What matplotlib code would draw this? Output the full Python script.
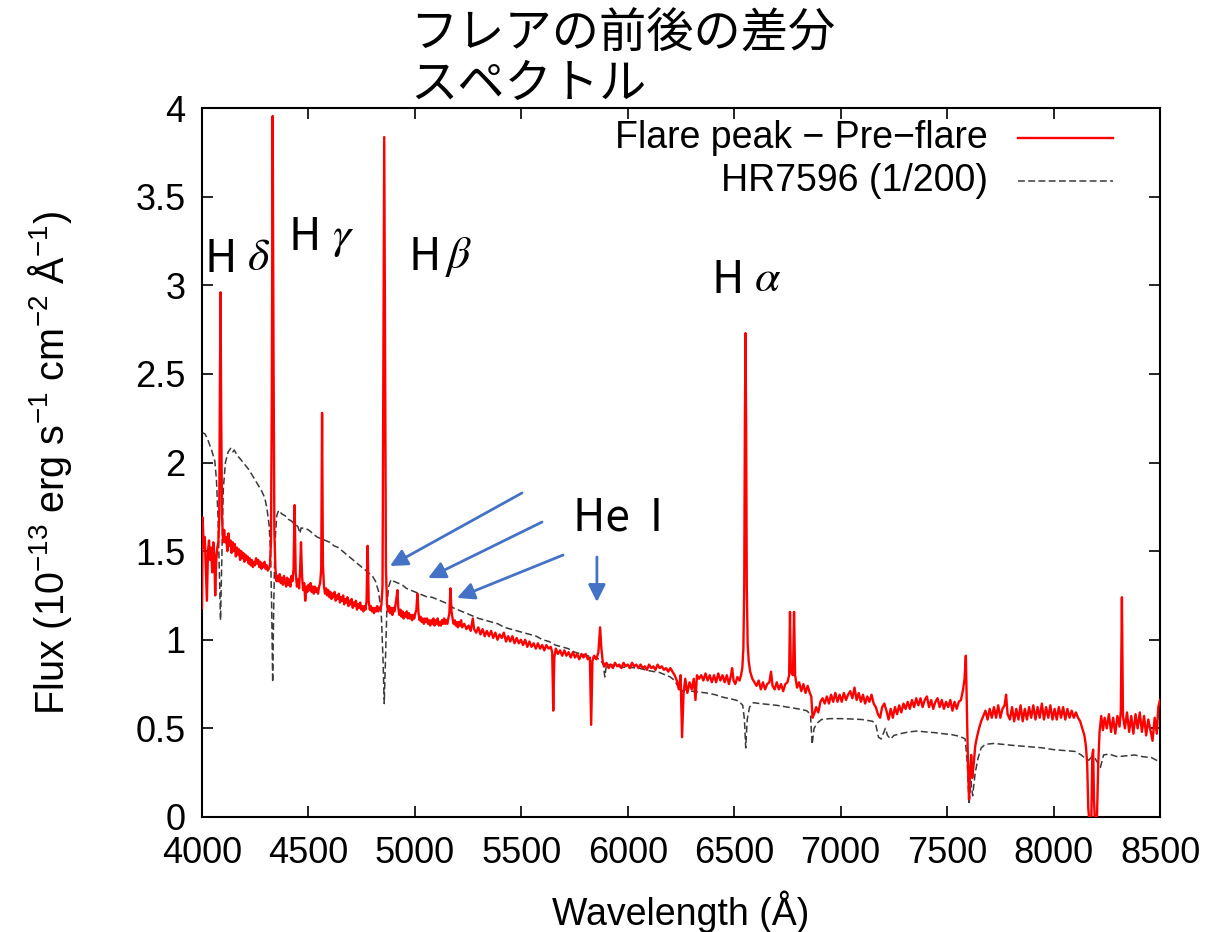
import numpy as np
import matplotlib
matplotlib.use("Agg")
import matplotlib.pyplot as plt

plt.rcParams["font.family"] = ["Liberation Sans", "DejaVu Sans"]
plt.rcParams["mathtext.fontset"] = "custom"
plt.rcParams["mathtext.rm"] = "Liberation Sans"
plt.rcParams["mathtext.it"] = "Liberation Sans:italic"

# ---- flare-peak minus pre-flare spectrum: (wavelength [A], flux [1e-13 erg/s/cm2/A]) ----
flare_4000_4500 = [
    (4000, 1.18), (4003, 1.69), (4008, 1.52), (4013, 1.58), (4018, 1.40), (4023, 1.22),
    (4028, 1.50), (4033, 1.56), (4038, 1.45), (4043, 1.52), (4048, 1.38), (4053, 1.55),
    (4058, 1.48), (4062, 1.25), (4067, 1.45), (4072, 1.52), (4077, 1.55), (4081, 1.70),
    (4084, 2.40), (4087, 2.96), (4090, 2.30), (4094, 1.70), (4099, 1.55), (4104, 1.62),
    (4109, 1.55), (4114, 1.58), (4119, 1.50), (4124, 1.60), (4129, 1.53), (4134, 1.56),
    (4139, 1.49), (4144, 1.55), (4149, 1.50), (4154, 1.54), (4159, 1.47), (4164, 1.52),
    (4169, 1.48), (4174, 1.51), (4179, 1.45), (4184, 1.50), (4189, 1.46), (4194, 1.49),
    (4199, 1.44), (4204, 1.48), (4209, 1.45), (4214, 1.47), (4219, 1.43), (4224, 1.46),
    (4229, 1.42), (4234, 1.45), (4239, 1.41), (4244, 1.44), (4249, 1.42), (4254, 1.46),
    (4259, 1.43), (4264, 1.45), (4269, 1.41), (4274, 1.44), (4279, 1.40), (4284, 1.43),
    (4289, 1.41), (4294, 1.44), (4299, 1.40), (4304, 1.42), (4309, 1.39), (4314, 1.40),
    (4319, 1.42), (4324, 1.55), (4328, 2.40), (4332, 3.955), (4336, 2.60), (4340, 1.60),
    (4345, 1.40), (4350, 1.33), (4355, 1.36), (4360, 1.33), (4365, 1.37), (4370, 1.32),
    (4375, 1.35), (4380, 1.31), (4385, 1.36), (4390, 1.33), (4395, 1.30), (4400, 1.35),
    (4405, 1.31), (4410, 1.34), (4415, 1.30), (4420, 1.36), (4425, 1.33), (4430, 1.40),
    (4435, 1.76), (4440, 1.38), (4446, 1.30), (4451, 1.34), (4456, 1.29), (4461, 1.40),
    (4465, 1.55), (4470, 1.36), (4475, 1.28), (4480, 1.32), (4485, 1.22), (4490, 1.30),
    (4495, 1.27),
]
flare_4500_5000 = [
    (4500, 1.31), (4505, 1.28), (4510, 1.32), (4515, 1.27), (4520, 1.30), (4525, 1.26),
    (4530, 1.30), (4535, 1.27), (4540, 1.29), (4545, 1.26), (4550, 1.30), (4555, 1.32),
    (4560, 1.40), (4564, 2.28), (4568, 1.42), (4573, 1.30), (4578, 1.26), (4583, 1.29),
    (4588, 1.25), (4593, 1.28), (4598, 1.24), (4603, 1.27), (4608, 1.23), (4613, 1.26),
    (4618, 1.24), (4623, 1.27), (4628, 1.22), (4633, 1.25), (4638, 1.23), (4643, 1.26),
    (4648, 1.21), (4653, 1.24), (4658, 1.22), (4663, 1.25), (4668, 1.20), (4673, 1.23),
    (4678, 1.21), (4683, 1.24), (4688, 1.19), (4693, 1.22), (4698, 1.20), (4703, 1.23),
    (4708, 1.18), (4713, 1.21), (4718, 1.19), (4723, 1.22), (4728, 1.17), (4733, 1.20),
    (4738, 1.18), (4743, 1.21), (4748, 1.17), (4753, 1.19), (4758, 1.16), (4763, 1.19),
    (4768, 1.17), (4773, 1.22), (4778, 1.53), (4783, 1.22), (4788, 1.17), (4793, 1.19),
    (4798, 1.16), (4803, 1.18), (4808, 1.15), (4813, 1.18), (4818, 1.16), (4823, 1.19),
    (4828, 1.16), (4833, 1.18), (4838, 1.17), (4843, 1.20), (4848, 1.30), (4852, 2.50),
    (4856, 3.836), (4860, 2.60), (4864, 1.40), (4869, 1.20), (4874, 1.16), (4879, 1.19),
    (4884, 1.15), (4889, 1.18), (4894, 1.14), (4899, 1.18), (4904, 1.16), (4909, 1.20),
    (4914, 1.24), (4918, 1.28), (4922, 1.18), (4927, 1.14), (4932, 1.17), (4937, 1.13),
    (4942, 1.16), (4947, 1.12), (4952, 1.15), (4957, 1.13), (4962, 1.16), (4967, 1.12),
    (4972, 1.15), (4977, 1.12), (4982, 1.14), (4987, 1.11), (4992, 1.14), (4997, 1.12),
]
flare_5000_6000 = [
    (5002, 1.15), (5007, 1.17), (5012, 1.26), (5017, 1.15), (5022, 1.11), (5027, 1.13),
    (5032, 1.10), (5037, 1.12), (5042, 1.09), (5047, 1.12), (5052, 1.10), (5057, 1.12),
    (5062, 1.09), (5067, 1.11), (5072, 1.08), (5077, 1.11), (5082, 1.09), (5087, 1.12),
    (5092, 1.08), (5097, 1.11), (5102, 1.09), (5107, 1.12), (5112, 1.08), (5117, 1.10),
    (5122, 1.08), (5127, 1.11), (5132, 1.09), (5137, 1.12), (5142, 1.09), (5147, 1.11),
    (5152, 1.09), (5157, 1.12), (5162, 1.15), (5167, 1.29), (5172, 1.16), (5177, 1.12),
    (5182, 1.09), (5187, 1.11), (5192, 1.08), (5197, 1.10), (5202, 1.07), (5207, 1.10),
    (5212, 1.08), (5217, 1.11), (5222, 1.07), (5232, 1.09), (5242, 1.06), (5252, 1.08),
    (5262, 1.05), (5272, 1.12), (5278, 1.06), (5288, 1.04), (5298, 1.07), (5308, 1.03),
    (5318, 1.06), (5328, 1.02), (5338, 1.05), (5348, 1.02), (5358, 1.05), (5368, 1.01),
    (5378, 1.04), (5388, 1.00), (5398, 1.03), (5408, 1.01), (5418, 1.04), (5428, 0.99),
    (5438, 1.02), (5448, 0.99), (5458, 1.02), (5468, 0.98), (5478, 1.01), (5488, 0.98),
    (5498, 1.00), (5508, 0.97), (5518, 1.00), (5528, 0.96), (5538, 0.99), (5548, 0.96),
    (5558, 0.98), (5568, 0.95), (5578, 0.98), (5588, 0.95), (5598, 0.97), (5608, 0.94),
    (5618, 0.97), (5628, 0.95), (5638, 0.96), (5645, 0.93), (5650, 0.60), (5655, 0.90),
    (5662, 0.95), (5672, 0.92), (5682, 0.94), (5692, 0.91), (5702, 0.94), (5712, 0.91),
    (5722, 0.93), (5732, 0.90), (5742, 0.93), (5752, 0.90), (5762, 0.92), (5772, 0.89),
    (5782, 0.92), (5792, 0.90), (5802, 0.92), (5812, 0.89), (5822, 0.90), (5828, 0.52),
    (5834, 0.88), (5842, 0.91), (5852, 0.89), (5862, 0.93), (5870, 1.07), (5876, 0.95),
    (5882, 0.88), (5890, 0.85), (5900, 0.87), (5910, 0.84), (5920, 0.86), (5930, 0.84),
    (5940, 0.87), (5950, 0.85), (5960, 0.86), (5970, 0.84), (5980, 0.87), (5990, 0.85),
]
flare_6000_7000 = [
    (6000, 0.86), (6010, 0.84), (6020, 0.87), (6030, 0.85), (6040, 0.86), (6050, 0.84),
    (6060, 0.86), (6070, 0.84), (6080, 0.85), (6090, 0.83), (6100, 0.86), (6110, 0.84),
    (6120, 0.85), (6130, 0.83), (6140, 0.86), (6150, 0.84), (6160, 0.85), (6170, 0.83),
    (6180, 0.84), (6190, 0.82), (6200, 0.84), (6210, 0.82), (6220, 0.80), (6230, 0.77),
    (6240, 0.72), (6248, 0.80), (6255, 0.45), (6262, 0.70), (6270, 0.78), (6280, 0.70),
    (6290, 0.76), (6300, 0.72), (6310, 0.78), (6318, 0.66), (6325, 0.80), (6335, 0.78),
    (6345, 0.80), (6355, 0.77), (6365, 0.81), (6375, 0.77), (6385, 0.80), (6395, 0.76),
    (6405, 0.80), (6415, 0.76), (6425, 0.81), (6435, 0.77), (6445, 0.80), (6455, 0.76),
    (6465, 0.80), (6475, 0.75), (6485, 0.80), (6490, 0.84), (6497, 0.77), (6505, 0.75),
    (6515, 0.79), (6525, 0.77), (6532, 0.80), (6538, 0.84), (6543, 0.95), (6547, 1.30),
    (6550, 2.20), (6553, 2.73), (6556, 2.20), (6559, 1.30), (6563, 0.98), (6568, 0.88),
    (6575, 0.82), (6585, 0.78), (6595, 0.76), (6605, 0.74), (6615, 0.77), (6625, 0.72),
    (6635, 0.76), (6645, 0.72), (6655, 0.75), (6665, 0.76), (6673, 0.82), (6680, 0.74),
    (6690, 0.72), (6700, 0.76), (6710, 0.72), (6720, 0.75), (6730, 0.71), (6740, 0.75),
    (6750, 0.76), (6758, 0.80), (6762, 1.157), (6766, 0.82), (6776, 0.80), (6781, 1.157),
    (6786, 0.80), (6795, 0.73), (6805, 0.76), (6815, 0.71), (6825, 0.75), (6835, 0.70),
    (6845, 0.74), (6855, 0.70), (6862, 0.68), (6868, 0.56), (6875, 0.58), (6885, 0.62),
    (6895, 0.59), (6905, 0.65), (6915, 0.67), (6925, 0.64), (6935, 0.68), (6945, 0.64),
    (6955, 0.69), (6965, 0.65), (6975, 0.70), (6985, 0.65), (6995, 0.69),
]
flare_7000_8500 = [
    (7005, 0.65), (7015, 0.70), (7025, 0.66), (7035, 0.69), (7045, 0.71), (7055, 0.67),
    (7065, 0.73), (7075, 0.66), (7085, 0.70), (7095, 0.65), (7105, 0.69), (7115, 0.64),
    (7125, 0.68), (7135, 0.65), (7145, 0.69), (7155, 0.64), (7165, 0.62), (7175, 0.58),
    (7185, 0.56), (7195, 0.62), (7205, 0.64), (7215, 0.60), (7225, 0.55), (7235, 0.61),
    (7245, 0.56), (7255, 0.62), (7265, 0.58), (7275, 0.63), (7285, 0.59), (7295, 0.64),
    (7305, 0.61), (7315, 0.65), (7325, 0.61), (7335, 0.66), (7345, 0.62), (7355, 0.67),
    (7365, 0.63), (7375, 0.67), (7385, 0.62), (7395, 0.66), (7405, 0.68), (7415, 0.62),
    (7425, 0.66), (7435, 0.61), (7445, 0.65), (7455, 0.67), (7465, 0.62), (7475, 0.66),
    (7485, 0.61), (7495, 0.65), (7505, 0.62), (7515, 0.66), (7525, 0.60), (7535, 0.65),
    (7545, 0.61), (7555, 0.65), (7565, 0.66), (7575, 0.72), (7582, 0.78), (7588, 0.91),
    (7593, 0.60), (7598, 0.30), (7603, 0.10), (7608, 0.25), (7613, 0.35), (7618, 0.22),
    (7625, 0.30), (7632, 0.40), (7640, 0.45), (7650, 0.50), (7660, 0.54), (7670, 0.57),
    (7680, 0.60), (7690, 0.55), (7700, 0.61), (7710, 0.56), (7720, 0.62), (7730, 0.56),
    (7740, 0.63), (7750, 0.56), (7760, 0.61), (7770, 0.63), (7777, 0.69), (7784, 0.58),
    (7795, 0.55), (7805, 0.62), (7815, 0.54), (7825, 0.61), (7835, 0.55), (7845, 0.63),
    (7855, 0.54), (7865, 0.61), (7875, 0.55), (7885, 0.62), (7895, 0.56), (7905, 0.63),
    (7915, 0.55), (7925, 0.62), (7935, 0.56), (7945, 0.64), (7955, 0.55), (7965, 0.62),
    (7975, 0.56), (7985, 0.63), (7995, 0.55), (8005, 0.61), (8015, 0.55), (8025, 0.62),
    (8035, 0.56), (8045, 0.62), (8055, 0.55), (8065, 0.61), (8075, 0.56), (8085, 0.60),
    (8095, 0.56), (8105, 0.59), (8115, 0.56), (8125, 0.54), (8135, 0.50), (8145, 0.46),
    (8152, 0.40), (8158, 0.30), (8163, 0.05), (8170, -0.05), (8177, -0.05), (8182, 0.35),
    (8186, 0.38), (8190, 0.10), (8195, -0.05), (8203, -0.05), (8210, 0.30), (8216, 0.48),
    (8224, 0.57), (8232, 0.49), (8240, 0.56), (8250, 0.50), (8260, 0.58), (8270, 0.48),
    (8280, 0.56), (8290, 0.47), (8300, 0.57), (8310, 0.51), (8316, 0.60), (8321, 1.24),
    (8326, 0.57), (8335, 0.50), (8345, 0.59), (8355, 0.48), (8365, 0.57), (8375, 0.47),
    (8385, 0.58), (8395, 0.50), (8405, 0.59), (8415, 0.48), (8425, 0.57), (8435, 0.46),
    (8445, 0.55), (8455, 0.49), (8465, 0.43), (8475, 0.56), (8485, 0.47), (8492, 0.62),
    (8500, 0.66),
]

# ---- comparison star HR7596, scaled by 1/200 ----
hr7596_blue = [
    (4000, 2.17), (4015, 2.16), (4030, 2.12), (4045, 2.07), (4060, 2.01), (4068, 1.90),
    (4075, 1.70), (4081, 1.40), (4087, 1.11), (4093, 1.45), (4100, 1.85), (4110, 2.00),
    (4123, 2.06), (4135, 2.08), (4145, 2.06), (4152, 2.07), (4165, 2.04), (4180, 2.02),
    (4200, 1.99), (4220, 1.96), (4240, 1.92), (4260, 1.88), (4280, 1.84), (4295, 1.80),
    (4305, 1.74), (4315, 1.65), (4322, 1.50), (4327, 1.20), (4332, 0.76), (4337, 1.20),
    (4343, 1.55), (4351, 1.70), (4360, 1.73), (4375, 1.71), (4390, 1.70), (4405, 1.68),
    (4420, 1.67), (4435, 1.65), (4450, 1.64), (4460, 1.60), (4465, 1.63), (4480, 1.63),
    (4500, 1.62), (4520, 1.60), (4540, 1.58), (4560, 1.57), (4580, 1.56), (4600, 1.55),
    (4620, 1.53), (4640, 1.52), (4660, 1.50), (4680, 1.48), (4700, 1.46), (4720, 1.44),
    (4740, 1.42), (4760, 1.40), (4780, 1.38), (4800, 1.36), (4815, 1.33), (4830, 1.27),
    (4842, 1.15), (4850, 0.90), (4856, 0.64), (4862, 0.90), (4869, 1.20), (4877, 1.30),
    (4888, 1.34), (4900, 1.33), (4920, 1.32), (4940, 1.31), (4960, 1.29), (4980, 1.28),
    (5000, 1.27), (5020, 1.26), (5040, 1.25), (5060, 1.24), (5080, 1.24), (5100, 1.23),
    (5120, 1.22), (5140, 1.21), (5160, 1.20), (5180, 1.18), (5200, 1.17), (5220, 1.16),
    (5240, 1.15), (5260, 1.14), (5280, 1.13), (5300, 1.12), (5330, 1.11), (5360, 1.10),
    (5390, 1.09), (5420, 1.07), (5450, 1.06), (5480, 1.05), (5510, 1.04), (5540, 1.03),
    (5570, 1.02), (5600, 1.00), (5630, 0.99), (5660, 0.97), (5690, 0.96), (5720, 0.95),
    (5750, 0.93), (5780, 0.92), (5810, 0.91), (5840, 0.90), (5870, 0.89), (5885, 0.86),
    (5892, 0.79), (5900, 0.86), (5920, 0.86), (5950, 0.85), (5980, 0.845),
]
hr7596_red = [
    (6000, 0.845), (6050, 0.84), (6100, 0.825), (6150, 0.815), (6200, 0.79), (6220, 0.77),
    (6240, 0.73), (6255, 0.71), (6275, 0.72), (6300, 0.71), (6330, 0.705), (6370, 0.70),
    (6410, 0.69), (6450, 0.675), (6490, 0.665), (6520, 0.655), (6540, 0.63), (6548, 0.55),
    (6554, 0.39), (6561, 0.55), (6572, 0.62), (6590, 0.645), (6620, 0.64), (6660, 0.635),
    (6700, 0.63), (6750, 0.62), (6800, 0.61), (6840, 0.60), (6858, 0.58), (6866, 0.41),
    (6875, 0.50), (6890, 0.53), (6910, 0.55), (6950, 0.555), (7000, 0.555), (7050, 0.553),
    (7100, 0.55), (7150, 0.54), (7165, 0.52), (7178, 0.45), (7190, 0.44), (7200, 0.47),
    (7210, 0.50), (7220, 0.46), (7235, 0.44), (7250, 0.46), (7280, 0.47), (7320, 0.48),
    (7360, 0.485), (7400, 0.48), (7440, 0.476), (7480, 0.47), (7520, 0.465), (7560, 0.455),
    (7585, 0.44), (7595, 0.30), (7603, 0.07), (7612, 0.20), (7620, 0.12), (7632, 0.25),
    (7645, 0.33), (7660, 0.39), (7680, 0.41), (7720, 0.415), (7760, 0.41), (7800, 0.405),
    (7850, 0.40), (7900, 0.395), (7950, 0.39), (8000, 0.38), (8050, 0.375), (8100, 0.37),
    (8130, 0.35), (8150, 0.33), (8165, 0.32), (8180, 0.34), (8195, 0.33), (8220, 0.28),
    (8235, 0.35), (8260, 0.355), (8300, 0.34), (8340, 0.345), (8380, 0.35), (8420, 0.34),
    (8460, 0.335), (8500, 0.31),
]

x_ticks = [4000, 4500, 5000, 5500, 6000, 6500, 7000, 7500, 8000, 8500]
y_ticks = [0, 0.5, 1, 1.5, 2, 2.5, 3, 3.5, 4]
y_tick_labels = ["0", "0.5", "1", "1.5", "2", "2.5", "3", "3.5", "4"]

legend_labels = ["Flare peak \u2212 Pre\u2212flare", "HR7596 (1/200)"]
title_lines = ["フレアの前後の差分", "スペクトル"]

# Balmer labels: (greek letter, x of "H", x of letter, y)
balmer_labels = [
    ("\u03b4", 4014, 4214, 3.15),
    ("\u03b3", 4404, 4612, 3.27),
    ("\u03b2", 4968, 5152, 3.16),
    ("\u03b1", 6391, 6595, 3.03),
]

flare = np.array(flare_4000_4500 + flare_4500_5000 + flare_5000_6000
                 + flare_6000_7000 + flare_7000_8500)
hr = np.array(hr7596_blue + hr7596_red)

fig = plt.figure(figsize=(12.12, 9.32), dpi=100)
ax = fig.add_axes([202 / 1212, 1 - 817 / 932, 958 / 1212, 709 / 932])

ax.plot(hr[:, 0], hr[:, 1], color="#3a3a3a", lw=1.1, dashes=(4.5, 2.2), zorder=2)
ax.plot(flare[:, 0], flare[:, 1], color="#ff0000", lw=1.7, zorder=3)

ax.set_xlim(4000, 8500)
ax.set_ylim(0, 4)
ax.set_xticks(x_ticks)
ax.set_yticks(y_ticks)
ax.set_yticklabels(y_tick_labels)
ax.tick_params(direction="in", length=8, width=1.2, top=True, right=True,
               labelsize=26)
ax.tick_params(axis="x", pad=14)
ax.tick_params(axis="y", pad=12)
for s in ax.spines.values():
    s.set_linewidth(1.5)

ax.set_xlabel("Wavelength (Å)", fontsize=27, labelpad=14)
ax.set_ylabel("Flux (10$^{-13}$ erg s$^{-1}$ cm$^{-2}$ Å$^{-1}$)", fontsize=28.5,
              labelpad=44)

# legend drawn as key samples at the upper right
tr = ax.transAxes
ax.text(0.8205, 0.958, legend_labels[0], transform=tr, ha="right", va="center",
        fontsize=27)
ax.plot([0.852, 0.951], [0.958, 0.958], transform=tr, color="#ff0000", lw=1.7)
ax.text(0.8205, 0.897, legend_labels[1], transform=tr, ha="right", va="center",
        fontsize=27)
ax.plot([0.852, 0.951], [0.897, 0.897], transform=tr, color="#3a3a3a", lw=1.1,
        dashes=(4.5, 2.2))

# Balmer line labels
cjk = ["Noto Sans CJK JP", "DejaVu Sans"]
for letter, xh, xg, yy in balmer_labels:
    ax.text(xh, yy, "H", fontsize=32, family=cjk, ha="left", va="center")
    ax.text(xg, yy, letter, fontsize=33, family="STIXGeneral", style="italic",
            ha="left", va="center")
ax.text(5743, 1.69, "He  I", fontsize=32, family=cjk, ha="left", va="center")

# arrows pointing at the He I lines
arrow_color = "#4472c4"
arrows = [((5503, 1.828), (4883, 1.416)),
          ((5597, 1.664), (5062, 1.348)),
          ((5696, 1.478), (5198, 1.236)),
          ((5855, 1.467), (5855, 1.213))]
for tail, head in arrows:
    ax.annotate("", xy=head, xytext=tail,
                arrowprops=dict(arrowstyle="-|>", color=arrow_color, lw=2,
                                mutation_scale=26, shrinkA=0, shrinkB=0))

# two-line heading
fig.text(410 / 1212, 1 - 35 / 932, title_lines[0], family=cjk, fontsize=34,
         ha="left", va="center")
fig.text(410 / 1212, 1 - 85 / 932, title_lines[1], family=cjk, fontsize=34,
         ha="left", va="center")

fig.savefig("out.png", dpi=100)
